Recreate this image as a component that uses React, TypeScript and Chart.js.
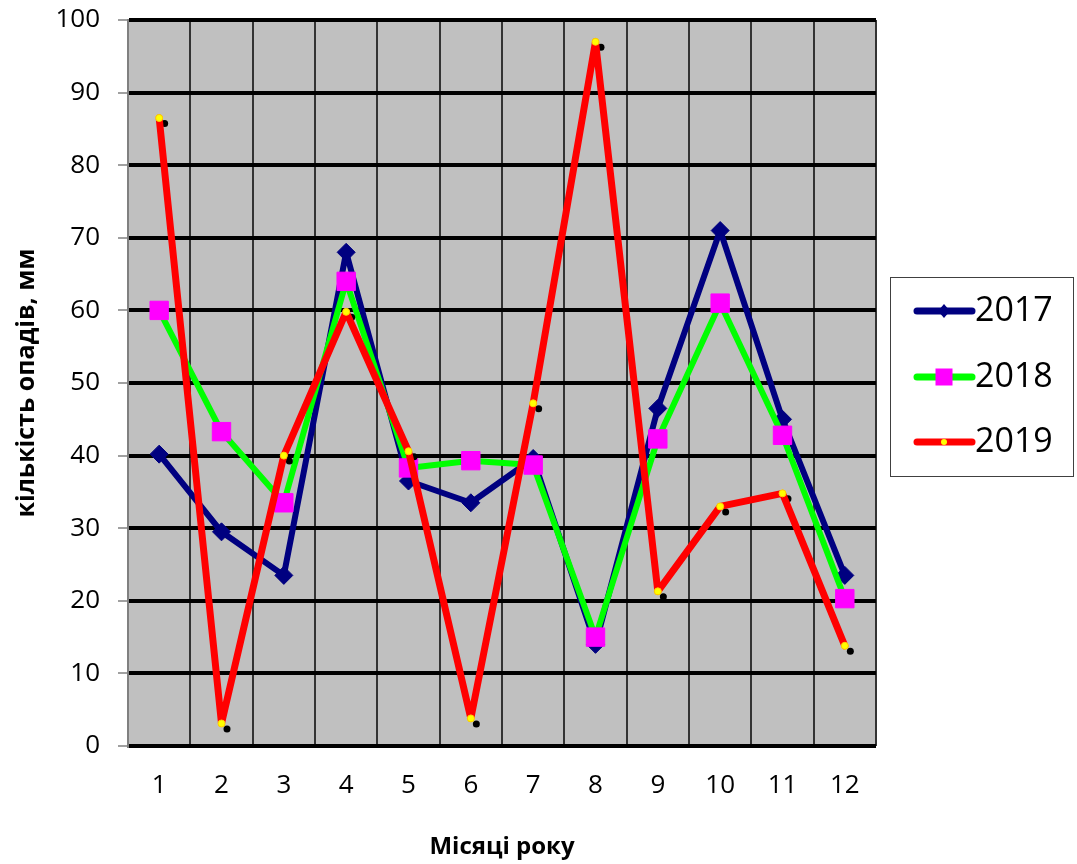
import React, { useEffect, useRef } from "react";
import { Chart, registerables } from "chart.js";

Chart.register(...registerables);

const months = ["1", "2", "3", "4", "5", "6", "7", "8", "9", "10", "11", "12"];
const rain2017 = [40.2, 29.5, 23.5, 68, 36.5, 33.5, 39.6, 14, 46.5, 71, 45, 23.5];
const rain2018 = [60, 43.3, 33.5, 64, 38.3, 39.3, 38.7, 15, 42.3, 61, 42.8, 20.3];
const rain2019 = [86.5, 3.1, 40, 59.8, 40.6, 3.8, 47.2, 97, 21.3, 33, 34.8, 13.8];
const seriesNames = ["2017", "2018", "2019"];
const yMin = 0;
const yMax = 100;
const yStep = 10;
const xTitle = "Місяці року";
const yTitle = "кількість опадів, мм";

const FONT = '"Open Sans", "DejaVu Sans", sans-serif';

const plotBg = {
  id: "plotBg",
  beforeDraw(chart: any) {
    const { ctx, chartArea } = chart;
    ctx.save();
    ctx.fillStyle = "#c0c0c0";
    ctx.fillRect(chartArea.left, chartArea.top, chartArea.width, chartArea.height);
    ctx.restore();
  },
};

const shadowDots = {
  id: "shadowDots",
  afterDatasetDraw(chart: any, args: any) {
    if (args.index !== 1) return;
    const meta = chart.getDatasetMeta(2);
    const ctx = chart.ctx;
    ctx.save();
    ctx.fillStyle = "#000";
    meta.data.forEach((p: any) => {
      ctx.beginPath();
      ctx.arc(p.x + 5.5, p.y + 5.5, 3.5, 0, Math.PI * 2);
      ctx.fill();
    });
    ctx.restore();
  },
};

const customLegend = {
  id: "customLegend",
  afterDraw(chart: any) {
    const ctx = chart.ctx;
    ctx.save();
    ctx.strokeStyle = "#404040";
    ctx.lineWidth = 1;
    ctx.strokeRect(890.5, 277.5, 183, 199);
    const ys = [311, 377, 442];
    chart.data.datasets.forEach((ds: any, i: number) => {
      const y = ys[i];
      ctx.strokeStyle = ds.borderColor;
      ctx.lineWidth = 7;
      ctx.lineCap = "round";
      ctx.beginPath();
      ctx.moveTo(917, y);
      ctx.lineTo(972, y);
      ctx.stroke();
      const cx = 944;
      ctx.fillStyle = ds.pointBackgroundColor;
      if (i === 0) {
        ctx.beginPath();
        ctx.moveTo(cx, y - 7);
        ctx.lineTo(cx + 6, y);
        ctx.lineTo(cx, y + 7);
        ctx.lineTo(cx - 6, y);
        ctx.closePath();
        ctx.fill();
      } else if (i === 1) {
        ctx.fillRect(cx - 8.5, y - 8.5, 17, 17);
      } else {
        ctx.beginPath();
        ctx.arc(cx, y, 3, 0, Math.PI * 2);
        ctx.fill();
      }
      ctx.fillStyle = "#000";
      ctx.font = `34px ${FONT}`;
      ctx.textBaseline = "middle";
      ctx.textAlign = "left";
      ctx.fillText(ds.label, 975, y);
    });
    ctx.restore();
  },
};

export default function App() {
  const ref = useRef<HTMLCanvasElement>(null);
  useEffect(() => {
    if (!ref.current) return;
    const common = { tension: 0, borderJoinStyle: "round", borderCapStyle: "round", borderWidth: 6 };
    const chart = new Chart(ref.current, {
      type: "line",
      data: {
        labels: months,
        datasets: [
          {
            ...common,
            label: seriesNames[0],
            data: rain2017,
            borderColor: "#000080",
            backgroundColor: "#000080",
            pointStyle: "rectRot",
            pointRadius: 9,
            pointBackgroundColor: "#000080",
            pointBorderColor: "#000080",
            pointBorderWidth: 1,
            order: 2,
          },
          {
            ...common,
            label: seriesNames[1],
            data: rain2018,
            borderColor: "#00ff00",
            backgroundColor: "#00ff00",
            pointStyle: "rect",
            pointRadius: 13,
            pointBackgroundColor: "#ff00ff",
            pointBorderColor: "#ff00ff",
            pointBorderWidth: 1,
            order: 1,
          },
          {
            ...common,
            borderWidth: 7,
            label: seriesNames[2],
            data: rain2019,
            borderColor: "#ff0000",
            backgroundColor: "#ff0000",
            pointStyle: "circle",
            pointRadius: 3.5,
            pointBackgroundColor: "#ffff00",
            pointBorderColor: "#ffd000",
            pointBorderWidth: 1,
            order: 0,
          },
        ],
      },
      options: {
        responsive: false,
        animation: false,
        layout: { padding: { top: 20, right: 201, left: 0, bottom: 0 } },
        plugins: { legend: { display: false }, tooltip: { enabled: false } },
        scales: {
          x: {
            offset: true,
            grid: { offset: true, color: "#333333", lineWidth: 2, drawTicks: false },
            border: { display: false },
            ticks: { font: { family: FONT, size: 26 }, color: "#000", padding: 24 },
            title: {
              display: true,
              text: xTitle,
              color: "#000",
              font: { family: FONT, size: 24, weight: "bold" },
              padding: { top: 0, bottom: 2 },
            },
            afterFit: (s: any) => {
              s.height = 118;
              s.paddingLeft = 0;
              s.paddingRight = 0;
            },
          },
          y: {
            min: yMin,
            max: yMax,
            ticks: { stepSize: yStep, font: { family: FONT, size: 26 }, color: "#000", padding: 18 },
            grid: { color: "#000", lineWidth: 4, tickLength: 10, tickColor: "#808080", tickWidth: 1.5 },
            border: { display: true, color: "#808080", width: 2 },
            title: {
              display: true,
              text: yTitle,
              color: "#000",
              font: { family: FONT, size: 25, weight: "bold" },
              padding: { top: 12, bottom: 0 },
            },
            afterFit: (s: any) => {
              s.width = 128;
              s.paddingTop = 0;
              s.paddingBottom = 0;
            },
          },
        },
      },
      plugins: [plotBg, shadowDots, customLegend],
    } as any);
    return () => chart.destroy();
  }, []);
  return (
    <div style={{ position: "absolute", left: 0, top: 0, width: 1077, height: 864, background: "#fff" }}>
      <canvas ref={ref} width={1077} height={864} style={{ width: 1077, height: 864, display: "block" }} />
    </div>
  );
}
